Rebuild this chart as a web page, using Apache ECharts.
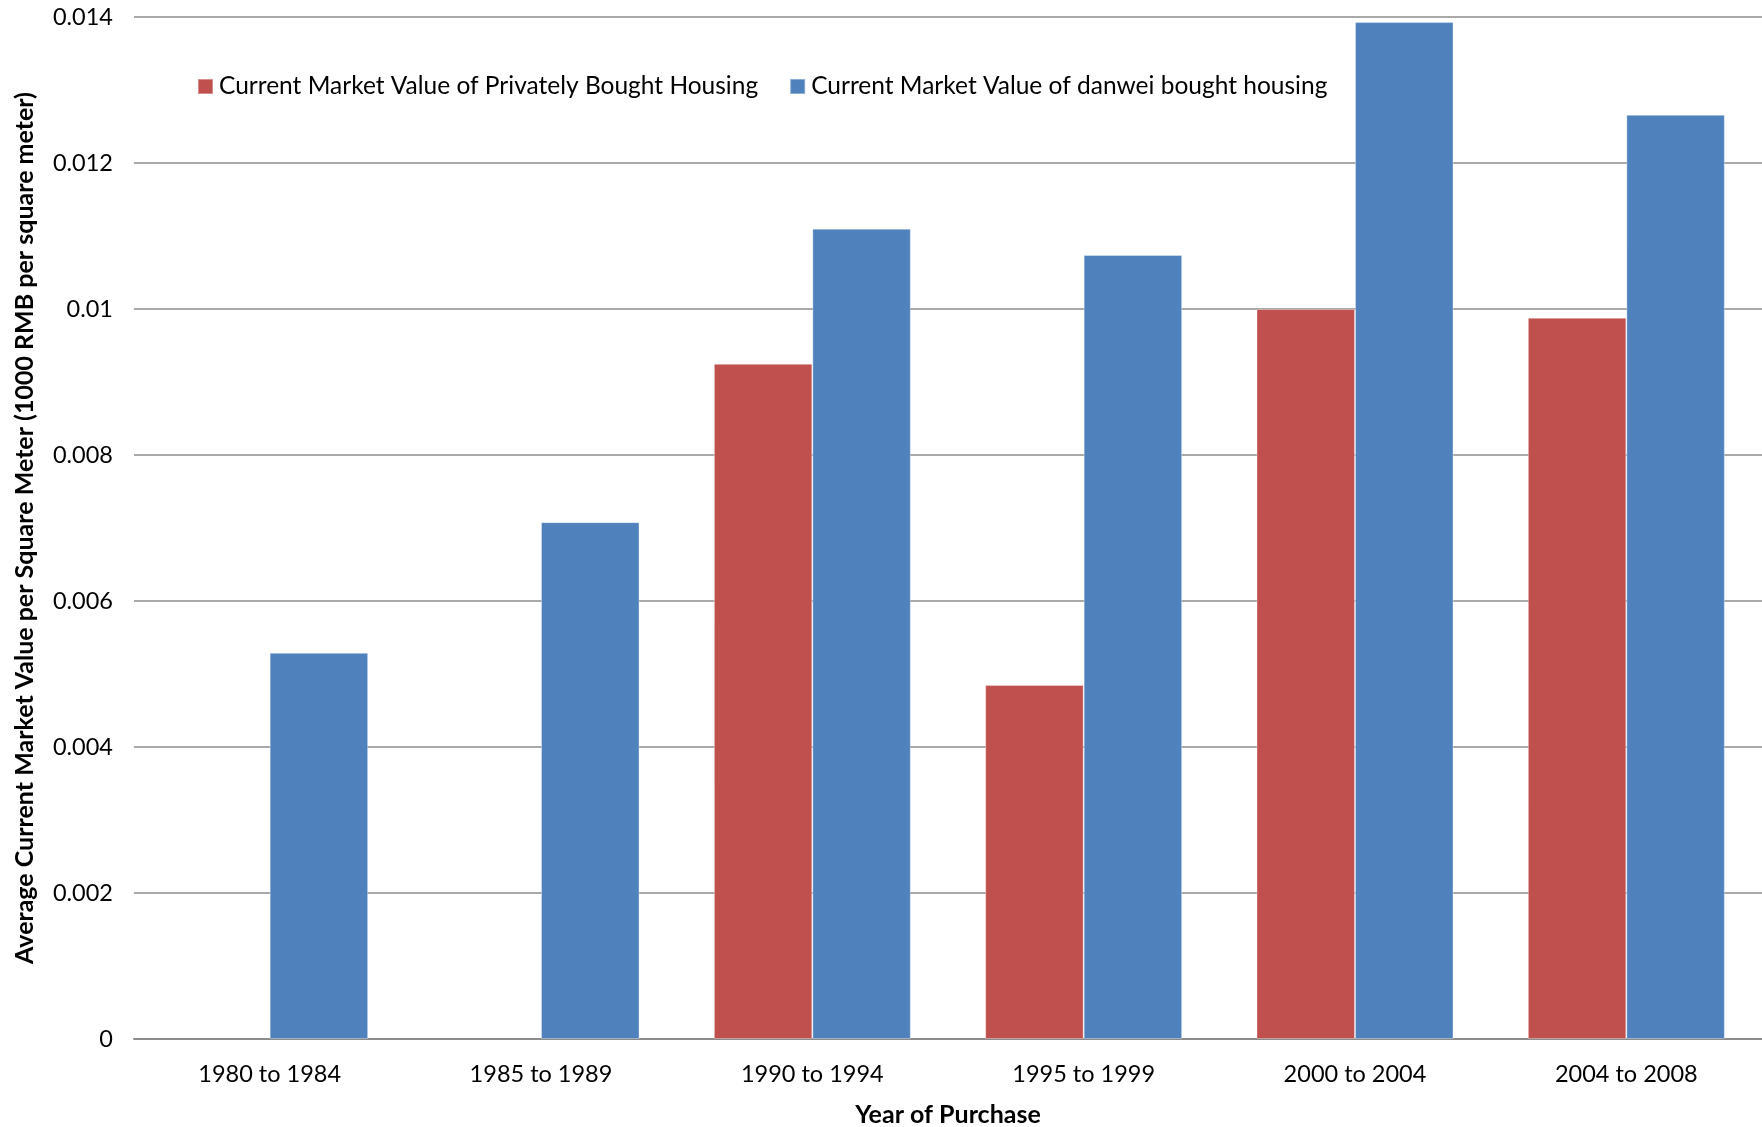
<!DOCTYPE html>
<html>
<head>
<meta charset="utf-8">
<script src="https://cdn.jsdelivr.net/npm/echarts@6/dist/echarts.min.js"></script>
<style>
  html, body { margin: 0; padding: 0; background: #fff; }
  #chart { width: 1762px; height: 1127px; }
</style>
</head>
<body>
<div id="chart"></div>
<script>
// Purchase periods on the category axis
const periods = ['1980 to 1984', '1985 to 1989', '1990 to 1994', '1995 to 1999', '2000 to 2004', '2004 to 2008'];

// Average current market value, 1000 RMB per square meter
const privateValues = [null, null, 0.00925, 0.00485, 0.0100, 0.00988];
const danweiValues = [0.00529, 0.00708, 0.0111, 0.01074, 0.01393, 0.01266];

const seriesNames = [
  'Current Market Value of Privately Bought Housing',
  'Current Market Value of danwei bought housing'
];

const FONT = 'Lato, "Liberation Sans", sans-serif';

const chart = echarts.init(document.getElementById('chart'), null, { renderer: 'canvas' });

chart.setOption({
  animation: false,
  color: ['#C0504D', '#4F81BD'],
  textStyle: { fontFamily: FONT },
  grid: { left: 134, right: 0, top: 17, bottom: 88, containLabel: false, outerBoundsMode: 'none' },
  legend: {
    left: 197,
    top: 74,
    padding: 0,
    itemWidth: 15,
    itemHeight: 15,
    itemGap: 31,
    icon: 'rect',
    textStyle: { fontFamily: FONT, fontSize: 24.5, color: '#000', padding: [0, 0, 0, 1] },
    data: seriesNames
  },
  xAxis: {
    type: 'category',
    data: periods,
    name: 'Year of Purchase',
    nameLocation: 'middle',
    nameGap: 63,
    nameTextStyle: { fontFamily: FONT, fontSize: 25, fontWeight: 'bold', color: '#000' },
    axisLine: { show: true, lineStyle: { color: '#8c8c8c', width: 2 } },
    axisTick: { show: false },
    axisLabel: { fontFamily: FONT, fontSize: 23.5, color: '#000', margin: 23 }
  },
  yAxis: {
    type: 'value',
    min: 0,
    max: 0.014,
    interval: 0.002,
    name: 'Average Current Market Value per Square Meter (1000 RMB per square meter)',
    nameLocation: 'middle',
    nameGap: 97,
    nameTextStyle: { fontFamily: FONT, fontSize: 25, fontWeight: 'bold', color: '#000' },
    axisLine: { show: false },
    axisTick: { show: false },
    axisLabel: { fontFamily: FONT, fontSize: 23.5, color: '#000', margin: 21 },
    splitLine: { show: true, lineStyle: { color: '#8c8c8c', width: 1.5 } }
  },
  series: [
    {
      name: seriesNames[0],
      type: 'bar',
      data: privateValues,
      barGap: '0%',
      barCategoryGap: '27.4%',
      itemStyle: { borderColor: 'rgba(255,255,255,0.35)', borderWidth: 1 }
    },
    {
      name: seriesNames[1],
      type: 'bar',
      data: danweiValues,
      barGap: '0%',
      barCategoryGap: '27.4%',
      itemStyle: { borderColor: 'rgba(255,255,255,0.35)', borderWidth: 1 }
    }
  ]
});
</script>
</body>
</html>
